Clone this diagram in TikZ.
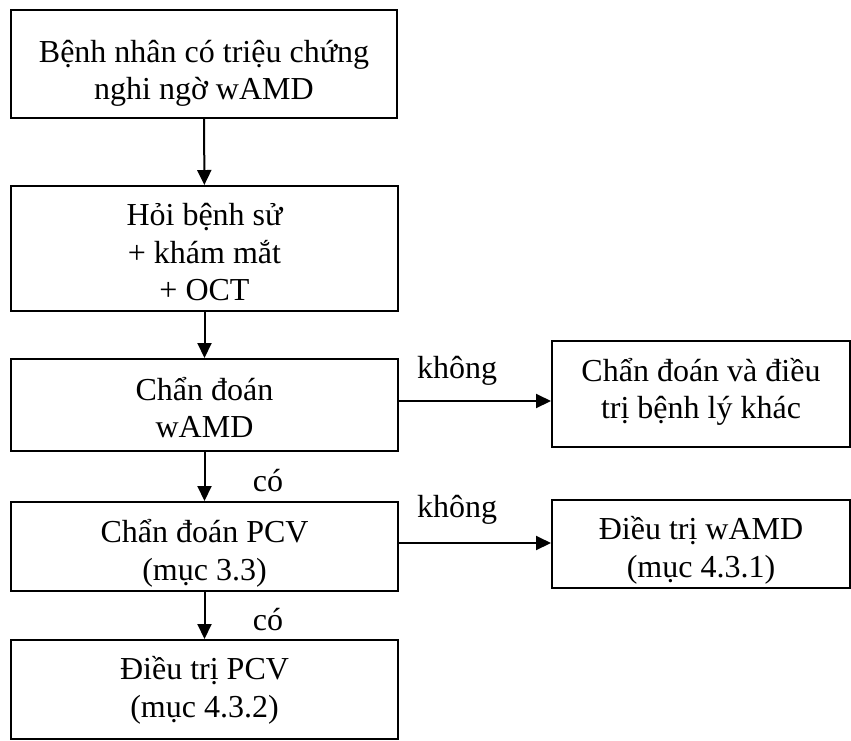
\documentclass[tikz,border=0pt]{standalone}
\usepackage{fontspec}
\setmainfont{Liberation Serif}
\usetikzlibrary{arrows.meta}
\newcommand\tst[1]{\rule{0pt}{#1pt}}
\newcommand\bst[1]{\rule[-#1pt]{0pt}{#1pt}}
\begin{document}
\begin{tikzpicture}[x=1pt,y=-1pt,
  box/.style={draw,line width=2pt,rectangle,align=center,inner sep=0pt,
    font=\fontsize{32}{37.5}\selectfont},
  arr/.style={line width=2pt,-{Triangle[length=15pt,width=14pt]}},
  lbl/.style={font=\fontsize{32}{37.5}\selectfont,anchor=base,inner sep=0pt}]
\useasboundingbox (0,0) rectangle (851,740);
\node[box,minimum width=386pt,minimum height=108pt] (b1) at (204,64) {\tst{42}Bệnh nhân có triệu chứng\\nghi ngờ wAMD\bst{8}};
\node[box,minimum width=387pt,minimum height=125pt] (b2) at (204.5,248.5) {\tst{37}Hỏi bệnh sử\\+ khám mắt\\+ OCT\bst{8}};
\node[box,minimum width=387pt,minimum height=92pt] (b3) at (204.5,405) {\tst{36}Chẩn đoán\\wAMD\bst{8}};
\node[box,minimum width=298pt,minimum height=106pt] (b4) at (701,394) {\tst{34}Chẩn đoán và điều\\trị bệnh lý khác\bst{22}};
\node[box,minimum width=387pt,minimum height=89pt] (b5) at (204.5,546.5) {\tst{38}Chẩn đoán PCV\\(mục 3.3)\bst{8}};
\node[box,minimum width=298pt,minimum height=88pt] (b6) at (701,544) {\tst{37.4}Điều trị wAMD\\(mục 4.3.1)\bst{8}};
\node[box,minimum width=387pt,minimum height=99pt] (b7) at (204.5,689.5) {\tst{32}Điều trị PCV\\(mục 4.3.2)\bst{14}};
\draw[arr] (b1) -- (b2);
\draw[arr] (b2) -- (b3);
\draw[arr] (b3) -- (b5);
\draw[arr] (b5) -- (b7);
\draw[arr] ([yshift=4pt]b3.east) -- ([yshift=4pt]b3.east -| b4.west);
\draw[arr] ([yshift=3.5pt]b5.east) -- ([yshift=3.5pt]b5.east -| b6.west);
\node[lbl] (l1) at (457,378) {không};
\node[lbl] (l2) at (457,517) {không};
\node[lbl] (l3) at (268,491) {có};
\node[lbl] (l4) at (268,630) {có};
\end{tikzpicture}
\end{document}
